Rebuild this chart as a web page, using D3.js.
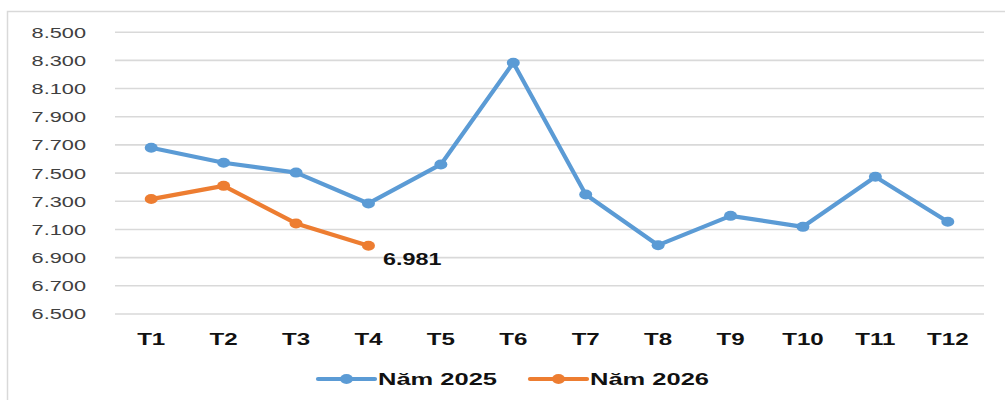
<!DOCTYPE html>
<html>
<head>
<meta charset="utf-8">
<script src="https://cdn.jsdelivr.net/npm/d3@7/dist/d3.min.js"></script>
<style>
  html, body { margin: 0; padding: 0; background: #fff; }
  svg { display: block; }
</style>
</head>
<body>
<svg id="chart" width="1005" height="400"></svg>
<script>
const categories = ["T1","T2","T3","T4","T5","T6","T7","T8","T9","T10","T11","T12"];
const values2025 = [7676, 7570, 7500, 7281, 7558, 8280, 7345, 6985, 7193, 7115, 7470, 7151];
const values2026 = [7312, 7406, 7139, 6981];
const yTicks = [6500, 6700, 6900, 7100, 7300, 7500, 7700, 7900, 8100, 8300, 8500];
const seriesNames = ["Năm 2025", "Năm 2026"];
const colors = ["#5B9BD5", "#ED7D31"];
const lastLabel = "6.981";

(function () {
const svg = d3.select("#chart");
const SX = 1.45;
const font = "'Liberation Sans', Arial, sans-serif";

// outer border
svg.append("rect")
  .attr("x", 7.5).attr("y", 11.5)
  .attr("width", 1010).attr("height", 400)
  .attr("fill", "#fff").attr("stroke", "#D9D9D9").attr("stroke-width", 1.5);

const pLeft = 115, pRight = 984, pTop = 31.7, pBottom = 313.5;
const x = d3.scaleBand().domain(categories).range([pLeft, pRight]);
const y = d3.scaleLinear().domain([6500, 8500]).range([pBottom, pTop]);
const fmt = v => d3.format(",")(v).replace(",", ".");

// y axis with gridlines
const yAxis = d3.axisLeft(y).tickValues(yTicks).tickSize(-(pRight - pLeft)).tickFormat(fmt);
const yg = svg.append("g").attr("transform", `translate(${pLeft},0)`).call(yAxis);
yg.select(".domain").remove();
yg.selectAll(".tick line").attr("stroke", "#D9D9D9").attr("stroke-width", 1.6);
yg.selectAll(".tick text")
  .attr("x", null).attr("dy", "0.36em")
  .attr("transform", `translate(-29,0) scale(${SX},1)`)
  .attr("text-anchor", "end")
  .style("font-family", font).style("font-size", "15px").attr("fill", "#404040");

// x axis
const xAxis = d3.axisBottom(x).tickSize(0);
const xg = svg.append("g").attr("transform", `translate(0,${pBottom})`).call(xAxis);
xg.select(".domain").remove();
xg.selectAll(".tick text")
  .attr("y", 0).attr("dy", 0)
  .attr("transform", `translate(0,31.5) scale(1.42,1)`)
  .attr("text-anchor", "middle")
  .style("font-family", font).style("font-size", "17px").style("font-weight", "bold").attr("fill", "#111");

const cx = (c) => x(c) + x.bandwidth() / 2;
const line = d3.line().x(d => cx(d.c)).y(d => y(d.v));

const series = [values2025, values2026].map((vals, i) => ({
  name: seriesNames[i], color: colors[i],
  pts: vals.map((v, j) => ({ c: categories[j], v }))
}));

series.forEach(s => {
  svg.append("path").datum(s.pts)
    .attr("d", line).attr("fill", "none")
    .attr("stroke", s.color).attr("stroke-width", 4.2)
    .attr("stroke-linejoin", "round");
  svg.selectAll(null).data(s.pts).enter().append("ellipse")
    .attr("cx", d => cx(d.c)).attr("cy", d => y(d.v))
    .attr("rx", 6.5).attr("ry", 5)
    .attr("fill", s.color);
});

// data label on last 2026 point
const lastPt = series[1].pts[series[1].pts.length - 1];
svg.append("text")
  .attr("transform", `translate(${cx(lastPt.c) + 14.5},${y(lastPt.v) + 19}) scale(1.46,1)`)
  .style("font-family", font).style("font-size", "16px").style("font-weight", "bold")
  .attr("fill", "#111").text(lastLabel);

// legend
const legendItems = [
  { x0: 318, x1: 375, tx: 378 },
  { x0: 530, x1: 587, tx: 590 }
];
const ly = 379;
series.forEach((s, i) => {
  const it = legendItems[i];
  svg.append("line").attr("x1", it.x0).attr("x2", it.x1).attr("y1", ly).attr("y2", ly)
    .attr("stroke", s.color).attr("stroke-width", 4.2).attr("stroke-linecap", "round");
  svg.append("ellipse").attr("cx", (it.x0 + it.x1) / 2).attr("cy", ly)
    .attr("rx", 6.5).attr("ry", 5).attr("fill", s.color);
  svg.append("text")
    .attr("transform", `translate(${it.tx},${ly + 6}) scale(1.5,1)`)
    .style("font-family", font).style("font-size", "17px").style("font-weight", "bold")
    .attr("fill", "#111").text(s.name);
});
})();
</script>
</body>
</html>
